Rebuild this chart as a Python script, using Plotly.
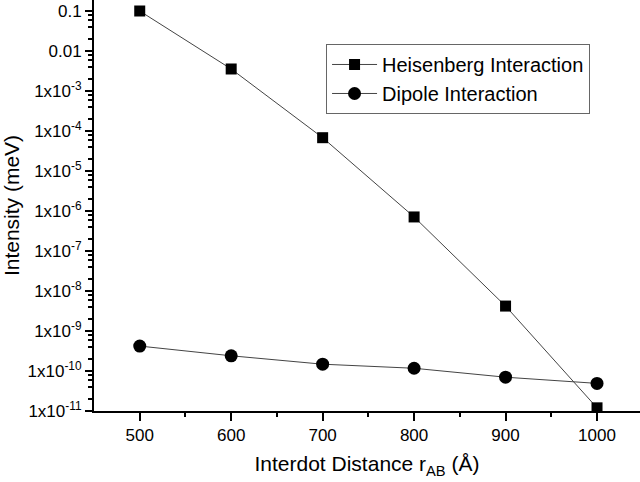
import plotly.graph_objects as go

distance = [500, 600, 700, 800, 900, 1000]
heisenberg = [0.1, 3.55e-3, 6.8e-5, 7.1e-7, 4.2e-9, 1.2e-11]
dipole = [4.2e-10, 2.4e-10, 1.48e-10, 1.17e-10, 7.0e-11, 4.9e-11]

ytick_vals = [1e-1, 1e-2, 1e-3, 1e-4, 1e-5, 1e-6, 1e-7, 1e-8, 1e-9, 1e-10, 1e-11]
ytick_text = ["0.1", "0.01"] + ["1x10<sup>-%d</sup>" % k for k in range(3, 12)]
xtick_vals = [500, 600, 700, 800, 900, 1000]

FONT = "Arial, Liberation Sans, sans-serif"
line_color = "#444444"

fig = go.Figure()
fig.add_trace(go.Scatter(
    x=distance, y=heisenberg, mode="lines+markers", name="Heisenberg Interaction",
    line=dict(color=line_color, width=1),
    marker=dict(symbol="square", size=11, color="black"),
))
fig.add_trace(go.Scatter(
    x=distance, y=dipole, mode="lines+markers", name="Dipole Interaction",
    line=dict(color=line_color, width=1),
    marker=dict(symbol="circle", size=13, color="black"),
))

minor_y = []
for e in range(-11, 0):
    for m in (2, 4, 6, 8):
        minor_y.append(m * 10 ** e)

fig.update_layout(
    width=640, height=482,
    margin=dict(l=94, r=0, t=0, b=71),
    paper_bgcolor="white", plot_bgcolor="white",
    font=dict(family=FONT, color="black"),
    showlegend=True,
    legend=dict(
        x=0.425, y=0.893, xanchor="left", yanchor="top",
        bordercolor="#666666", borderwidth=1, bgcolor="white",
        font=dict(size=20, family=FONT), tracegroupgap=0,
        itemwidth=45,
    ),
    xaxis=dict(
        range=[450, 1047], showgrid=False, zeroline=False,
        showline=True, linecolor="black", linewidth=2,
        ticks="outside", ticklen=8, tickwidth=1.5, tickcolor="black",
        tickvals=xtick_vals, ticktext=[str(v) for v in xtick_vals],
        tickfont=dict(size=17),
        minor=dict(tickvals=[550, 650, 750, 850, 950, 1050], ticks="outside",
                   ticklen=4, tickwidth=1.5, tickcolor="black"),
        title=dict(text="Interdot Distance r<sub>AB</sub> (Å)", font=dict(size=21), standoff=12),
    ),
    yaxis=dict(
        type="log", range=[-11, -0.725], showgrid=False, zeroline=False,
        showline=True, linecolor="black", linewidth=2,
        ticks="outside", ticklen=7, tickwidth=1.5, tickcolor="black",
        tickvals=ytick_vals, ticktext=ytick_text,
        tickfont=dict(size=17),
        minor=dict(tickvals=minor_y, ticks="outside", ticklen=4, tickwidth=1.5, tickcolor="black"),
        title=dict(text="Intensity (meV)", font=dict(size=21), standoff=4),
    ),
)

fig.write_html("out.html")
